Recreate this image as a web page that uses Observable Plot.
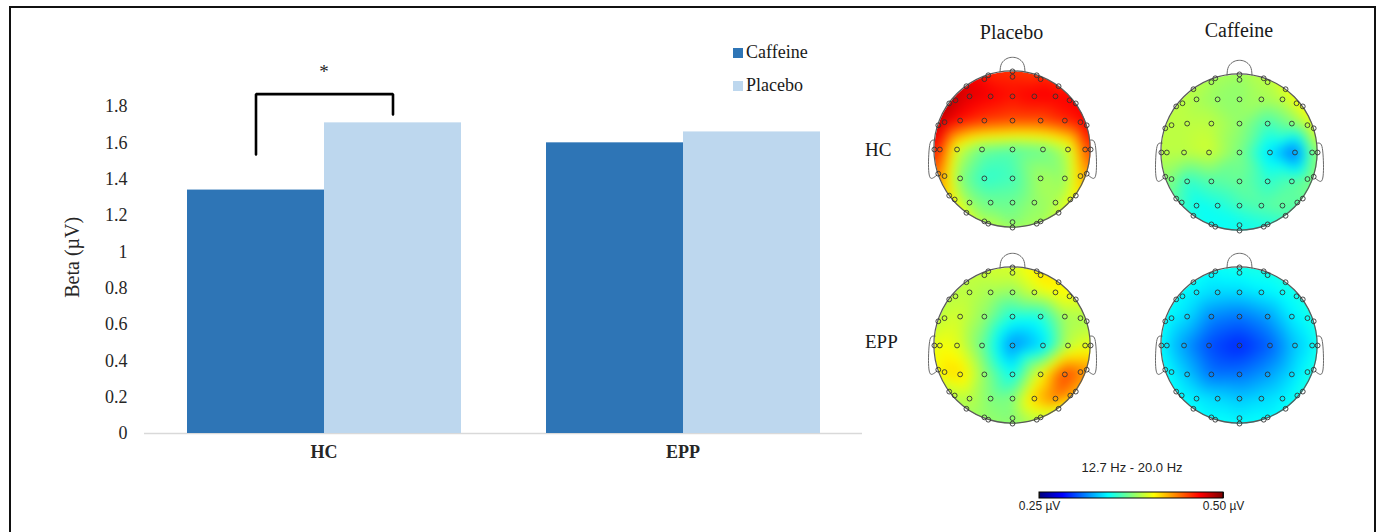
<!DOCTYPE html>
<html><head><meta charset="utf-8">
<script src="https://cdn.jsdelivr.net/npm/d3@7"></script>
<script src="https://cdn.jsdelivr.net/npm/@observablehq/plot@0.6"></script>
<style>
body{margin:0;background:#fff;}
#root{position:relative;width:1378px;height:532px;overflow:hidden;font-family:"Liberation Serif",serif;color:#1a1a1a;}
#frame{position:absolute;left:9px;top:6px;width:1367px;height:560px;border:2px solid #111;box-sizing:border-box;}
.abs{position:absolute;white-space:nowrap;}
.sq{position:absolute;width:10px;height:10px;}
</style></head><body><div id="root"><div id="frame"></div></div>
<script>
// ---------- bar chart data ----------
const groups = ["HC", "EPP"];
const series = ["Caffeine", "Placebo"];
const caffeineValues = [1.34, 1.60];
const placeboValues = [1.71, 1.66];
const yTicks = [0, 0.2, 0.4, 0.6, 0.8, 1, 1.2, 1.4, 1.6, 1.8];
const seriesColors = ["#2e75b6", "#bdd7ee"];
const yLabel = "Beta (µV)";
const yLabelAt = 0.97;
// significance bracket (HC: Caffeine vs Placebo)
const bracketSeries = ["Caffeine", "Caffeine", "Placebo", "Placebo"];
const bracketY = [1.536, 1.868, 1.868, 1.756];
const starY = 1.99;

// ---------- topomap data ----------
const columnTitles = ["Placebo", "Caffeine"];
const rowLabels = ["HC", "EPP"];
const elecX = [0,-0.31,0.31,-0.59,0.59,-0.81,0.81,-0.95,0.95,-1,1,-0.95,0.95,-0.81,0.81,-0.59,0.59,-0.31,0.31,0,
  0,-0.36,0.36,-0.73,0.73,-0.87,0.87,-0.93,0.93,-0.87,0.87,-0.74,0.74,-0.36,0.36,0,
  -0.55,-0.28,0,0.28,0.55, -0.67,-0.36,0,0.36,0.67, -0.71,-0.39,0,0.39,0.71, -0.67,-0.36,0,0.36,0.67, -0.55,-0.28,0,0.28,0.55];
const elecY = [1,0.95,0.95,0.81,0.81,0.59,0.59,0.31,0.31,0,0,-0.31,-0.31,-0.59,-0.59,-0.81,-0.81,-0.95,-0.95,-1,
  0.93,0.9,0.9,0.63,0.63,0.35,0.35,0,0,-0.34,-0.34,-0.64,-0.64,-0.92,-0.92,-0.93,
  0.68,0.68,0.68,0.68,0.68, 0.37,0.37,0.37,0.37,0.37, 0,0,0,0,0, -0.37,-0.37,-0.37,-0.37,-0.37, -0.68,-0.68,-0.68,-0.68,-0.68];
const hcPlacebo = [0.455,0.46,0.455,0.475,0.46,0.485,0.47,0.48,0.47,0.465,0.455,0.44,0.43,0.415,0.41,0.40,0.395,0.39,0.385,0.385,
  0.46,0.47,0.465,0.48,0.47,0.475,0.465,0.455,0.445,0.42,0.42,0.40,0.40,0.38,0.38,0.375,
  0.475,0.47,0.465,0.47,0.47, 0.465,0.455,0.45,0.45,0.46, 0.395,0.37,0.365,0.37,0.39, 0.375,0.355,0.36,0.385,0.38, 0.38,0.37,0.37,0.38,0.385];
const hcCaffeine = [0.385,0.385,0.39,0.39,0.40,0.39,0.405,0.39,0.40,0.39,0.38,0.38,0.375,0.365,0.37,0.35,0.36,0.345,0.35,0.35,
  0.38,0.385,0.385,0.39,0.40,0.39,0.39,0.39,0.37,0.375,0.37,0.36,0.365,0.345,0.35,0.345,
  0.385,0.38,0.38,0.385,0.39, 0.39,0.39,0.38,0.36,0.375, 0.39,0.395,0.375,0.335,0.305, 0.355,0.365,0.37,0.355,0.365, 0.345,0.35,0.36,0.365,0.37];
const eppPlacebo = [0.395,0.395,0.41,0.39,0.41,0.39,0.40,0.39,0.385,0.40,0.40,0.405,0.43,0.39,0.425,0.385,0.40,0.38,0.39,0.38,
  0.395,0.39,0.415,0.39,0.405,0.395,0.385,0.405,0.40,0.415,0.44,0.39,0.43,0.38,0.39,0.375,
  0.39,0.385,0.38,0.395,0.405, 0.395,0.38,0.35,0.35,0.385, 0.40,0.37,0.315,0.335,0.39, 0.415,0.38,0.345,0.405,0.455, 0.39,0.375,0.375,0.42,0.44];
const eppCaffeine = [0.35,0.345,0.35,0.345,0.35,0.345,0.35,0.345,0.35,0.345,0.35,0.345,0.35,0.345,0.35,0.345,0.345,0.345,0.345,0.345,
  0.345,0.34,0.345,0.34,0.345,0.34,0.345,0.335,0.34,0.34,0.345,0.34,0.345,0.34,0.34,0.34,
  0.34,0.335,0.335,0.34,0.345, 0.335,0.315,0.31,0.32,0.34, 0.32,0.30,0.29,0.305,0.33, 0.33,0.31,0.31,0.32,0.335, 0.34,0.335,0.33,0.335,0.34];
// head outline shapes (head units, radius 1)
const noseX = [-0.16,-0.14,-0.07,0,0.07,0.14,0.16];
const noseY = [0.99,1.1,1.165,1.18,1.165,1.1,0.99];
const earX = [-0.99,-1.04,-1.065,-1.075,-1.07,-1.04,-0.97];
const earY = [0.12,0.11,0.02,-0.15,-0.3,-0.37,-0.33];
const colorDomain = [0.25, 0.5];
const jet = ["#00007f","#0000ff","#007fff","#00ffff","#7fff7f","#ffff00","#ff7f00","#ff0000","#7f0000"];
const bandLabel = "12.7 Hz - 20.0 Hz";

const root = document.getElementById("root");
function place(node, left, top) {
  const d = document.createElement("div");
  d.className = "abs"; d.style.left = left + "px"; d.style.top = top + "px";
  d.appendChild(node); root.appendChild(d); return d;
}
function label(text, left, top, css) {
  const d = document.createElement("div");
  d.className = "abs"; d.textContent = text;
  d.style.left = left + "px"; d.style.top = top + "px";
  Object.assign(d.style, css || {});
  root.appendChild(d); return d;
}

// ---------- bar chart ----------
const barData = groups.flatMap((g, i) => [
  {group: g, series: "Caffeine", value: caffeineValues[i]},
  {group: g, series: "Placebo", value: placeboValues[i]}
]);
const bracket = bracketSeries.map((s, i) => ({group: "HC", series: s, y: bracketY[i]}));
const bars = Plot.plot({
  width: 880, height: 480,
  marginTop: 106, marginBottom: 47, marginLeft: 144, marginRight: 18,
  style: {fontFamily: "Liberation Serif", fontSize: "18px", color: "#262626", background: "transparent", overflow: "visible"},
  fx: {domain: groups, padding: 0},
  x: {domain: series, axis: null, paddingInner: 0, paddingOuter: 0.31},
  y: {domain: [0, 1.8]},
  color: {domain: series, range: seriesColors},
  marks: [
    Plot.axisY({ticks: yTicks, tickFormat: d => String(d), tickSize: 0, tickPadding: 17, label: null, fontSize: 18}),
    Plot.axisFx({anchor: "bottom", tickSize: 0, tickPadding: 12, label: null, fontWeight: "bold", fontSize: 18}),
    Plot.ruleY([0], {stroke: "#d9d9d9", strokeWidth: 1.5}),
    Plot.barY(barData, {fx: "group", x: "series", y: "value", fill: "series"}),
    Plot.line(bracket, {fx: "group", x: "series", y: "y", stroke: "#000", strokeWidth: 2.6, strokeLinejoin: "miter"}),
    Plot.text([{group: "HC", y: starY, t: "*"}], {fx: "group", y: "y", text: "t", fontSize: 19}),
    Plot.text([{group: "HC", y: yLabelAt, t: yLabel}], {fx: "group", y: "y", text: "t", frameAnchor: "left", textAnchor: "middle", rotate: -90, dx: -72, fontSize: 20})
  ]
});
place(bars, 0, 0);

// legend
series.forEach((s, i) => {
  const sq = document.createElement("div");
  sq.className = "sq"; sq.style.left = "733px"; sq.style.top = (48 + i * 33) + "px"; sq.style.background = seriesColors[i];
  root.appendChild(sq);
  label(s, 746, 41 + i * 33, {fontSize: "18px", lineHeight: "22px"});
});

// ---------- topomaps ----------
const colorOpts = {type: "linear", domain: colorDomain, interpolate: d3.piecewise(d3.interpolateRgb, jet), clamp: true};
let clipCount = 0;
function topo(values) {
  const data = elecX.map((x, i) => ({x, y: elecY[i], v: values[i]}));
  const plot = Plot.plot({
    width: 200, height: 200, margin: 0,
    x: {domain: [-1.28, 1.28], axis: null},
    y: {domain: [-1.28, 1.28], axis: null},
    color: colorOpts,
    style: {background: "transparent", overflow: "visible"},
    marks: [
      Plot.raster(data, {x: "x", y: "y", fill: "v", interpolate: "barycentric", x1: -1.03, x2: 1.03, y1: -1.03, y2: 1.03, pixelSize: 1, blur: 5}),
      Plot.line(noseX.map((x, i) => ({x, y: noseY[i]})), {x: "x", y: "y", stroke: "#6a6a6a", strokeWidth: 1, curve: "natural"}),
      Plot.line(earX.map((x, i) => ({x, y: earY[i]})), {x: "x", y: "y", stroke: "#6a6a6a", strokeWidth: 1, curve: "natural"}),
      Plot.line(earX.map((x, i) => ({x: -x, y: earY[i]})), {x: "x", y: "y", stroke: "#6a6a6a", strokeWidth: 1, curve: "natural"}),
      Plot.dot(data, {x: "x", y: "y", r: 2.4, stroke: "#333", strokeWidth: 0.9, fill: "none"})
    ]
  });
  const sx = plot.scale("x"), sy = plot.scale("y");
  const cx = sx.apply(0), cy = sy.apply(0), r = sx.apply(1) - cx;
  const id = "headclip" + (++clipCount);
  const svg = d3.select(plot);
  svg.insert("defs", ":first-child").append("clipPath").attr("id", id)
    .append("circle").attr("cx", cx).attr("cy", cy).attr("r", r);
  svg.select('g[aria-label="raster"]').attr("clip-path", `url(#${id})`);
  svg.insert("circle", 'g[aria-label="dot"]').attr("cx", cx).attr("cy", cy).attr("r", r)
    .attr("fill", "none").attr("stroke", "#5a5a5a").attr("stroke-width", 1.2);
  return plot;
}
const maps = [[hcPlacebo, hcCaffeine], [eppPlacebo, eppCaffeine]];
const centersX = [1011.5, 1239];
const centersY = [[148.5, 151.5], [344.5, 344.5]];
maps.forEach((row, r) => row.forEach((vals, c) => {
  place(topo(vals), centersX[c] - 100, centersY[r][c] - 100);
}));
columnTitles.forEach((t, c) => {
  label(t, centersX[c], c === 0 ? 20 : 18, {fontSize: "20px", transform: "translateX(-50%)", lineHeight: "24px"});
});
rowLabels.forEach((t, r) => label(t, 865, r === 0 ? 138 : 330, {fontSize: "19px", lineHeight: "24px"}));

// color bar
const leg = Plot.legend({
  color: colorOpts,
  width: 244, height: 30, marginLeft: 30, marginRight: 30, marginTop: 2, marginBottom: 22,
  ticks: colorDomain, tickFormat: d => d.toFixed(2) + " µV", tickSize: 0, label: null,
  style: {fontFamily: "Liberation Sans", fontSize: "12px", color: "#222", background: "transparent"}
});
const legSvg = leg.tagName.toLowerCase() === "svg" ? leg : leg.querySelector("svg");
d3.select(legSvg).append("rect").attr("x", 30).attr("y", 2).attr("width", 184).attr("height", 6)
  .attr("fill", "none").attr("stroke", "#000").attr("stroke-width", 1);
place(leg, 1009, 490);
label(bandLabel, 1132, 459, {fontFamily: "Liberation Sans", fontSize: "13px", transform: "translateX(-50%)", lineHeight: "18px", color: "#222"});
</script></body></html>
